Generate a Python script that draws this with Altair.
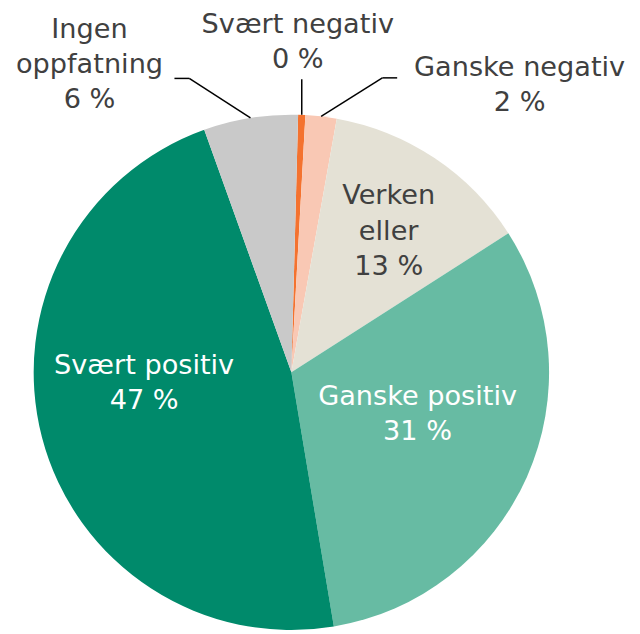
import math
import altair as alt
import pandas as pd

# ---- data ----
categories = ["Svært negativ", "Ganske negativ", "Verken eller",
              "Ganske positiv", "Svært positiv", "Ingen oppfatning"]
display_names = ["Svært negativ", "Ganske negativ", "Verken\neller",
                 "Ganske positiv", "Svært positiv", "Ingen\noppfatning"]
shares = [0.45, 1.95, 13.1, 31.4, 47.1, 5.9]
colors = ["#F4722F", "#F9C8B4", "#E4E1D5", "#67BBA3", "#008A6B", "#C9C9C9"]

df = pd.DataFrame({
    "idx": list(range(len(categories))),
    "category": categories,
    "share": shares,
    "label": [f"{n}\n{round(v)} %" for n, v in zip(display_names, shares)],
})
TOTAL = sum(shares)

# ---- layout / style ----
CX, CY, R = 287, 365, 261
OFF = math.radians(1.5)
FONT = "DejaVu Sans"
FS = 27.5
DARK = "#404040"

# per label: radius of anchor, dx, dy, colour
label_layout = {
    "Svært negativ": (R, -4, -91, DARK),
    "Ganske negativ": (R, 201, -49, DARK),
    "Verken eller": (172, 3, -35, DARK),
    "Ganske positiv": (130, 9, -28, "white"),
    "Svært positiv": (150, -4, -44, "white"),
    "Ingen oppfatning": (R, -163, -89, DARK),
}
# leader lines: elbow and end offsets from the slice edge point
leaders = {
    "Svært negativ": ((0, -36), (0, -36)),
    "Ganske negativ": ((62, -39), (77, -39)),
    "Ingen oppfatning": ((-62, -40), (-77, -40)),
}

base = alt.Chart(df)

arcs = base.mark_arc(radius=R).encode(
    theta=alt.Theta("share:Q", stack=True,
                    scale=alt.Scale(domain=[0, TOTAL], range=[OFF, OFF + 2 * math.pi])),
    color=alt.Color("category:N", scale=alt.Scale(domain=categories, range=colors), legend=None),
    order=alt.Order("idx:Q"),
    x=alt.value(CX),
    y=alt.value(CY),
)

pos = base.transform_window(
    cum="sum(share)", sort=[alt.SortField("idx")], frame=[None, 0]
).transform_calculate(
    ang=f"{OFF} + 2*PI*(datum.cum - datum.share/2)/{TOTAL}"
)

layers = [arcs]

for cat, ((bdx, bdy), (fdx, fdy)) in leaders.items():
    seg = pos.transform_filter(alt.datum.category == cat).transform_calculate(
        ex=f"{CX} + {R}*sin(datum.ang)",
        ey=f"{CY} - {R}*cos(datum.ang)",
    ).transform_calculate(
        bx=f"datum.ex + {bdx}", by=f"datum.ey + {bdy}",
        fx=f"datum.ex + {fdx}", fy=f"datum.ey + {fdy}",
    )
    layers.append(seg.mark_rule(color="black", strokeWidth=1.5).encode(
        x=alt.X("ex:Q", scale=None, axis=None), y=alt.Y("ey:Q", scale=None, axis=None),
        x2="bx:Q", y2="by:Q"))
    layers.append(seg.mark_rule(color="black", strokeWidth=1.5).encode(
        x=alt.X("bx:Q", scale=None, axis=None), y=alt.Y("by:Q", scale=None, axis=None),
        x2="fx:Q", y2="fy:Q"))

for cat, (r, dx, dy, col) in label_layout.items():
    t = pos.transform_filter(alt.datum.category == cat).transform_calculate(
        tx=f"{CX} + {r}*sin(datum.ang)",
        ty=f"{CY} - {r}*cos(datum.ang)",
    ).mark_text(
        dx=dx, dy=dy, font=FONT, fontSize=FS, color=col, lineBreak="\n",
        lineHeight=35.5, align="center", baseline="middle",
    ).encode(
        x=alt.X("tx:Q", scale=None, axis=None),
        y=alt.Y("ty:Q", scale=None, axis=None),
        text="label:N",
    )
    layers.append(t)

chart = alt.layer(*layers).properties(
    width=632, height=626, padding=0,
    autosize=alt.AutoSizeParams(type="none"),
).configure_view(stroke=None)

chart.save("out.html", embed_options={"renderer": "svg", "actions": False})
